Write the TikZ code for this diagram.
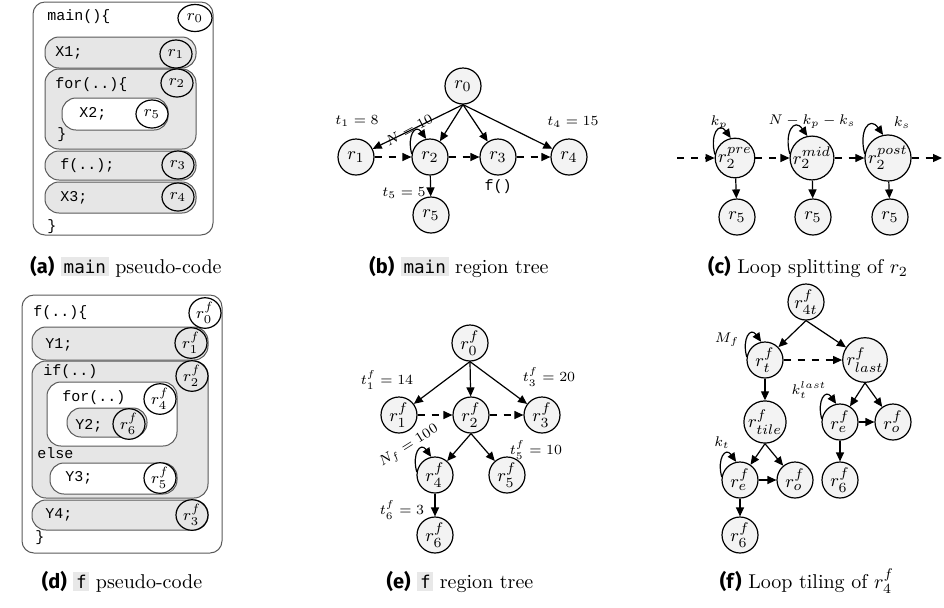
\documentclass[tikz,border=0pt]{standalone}
\usepackage{fontspec}
\newfontfamily\codefont{Liberation Mono}
\newfontfamily\labsans{Fira Sans}
\newfontfamily\captt{DejaVu Sans Mono}
\usetikzlibrary{arrows.meta,shapes.geometric}
\definecolor{boxgray}{HTML}{E6E6E6}
\definecolor{nodegray}{HTML}{F3F3F3}
\definecolor{boxline}{HTML}{5A5A5A}
\definecolor{capgray}{HTML}{E8E8E8}
\newcommand{\capcode}[1]{{\setlength{\fboxsep}{1.3pt}\colorbox{capgray}{\captt\fontsize{8.8}{10}\selectfont #1}}}
\newcommand{\caplab}[1]{{\labsans\bfseries (#1)}}

\tikzset{
  rnode/.style={circle, draw, fill=nodegray, line width=0.6pt, minimum size=18pt,
    inner sep=0pt, font=\fontsize{9.5}{10}\selectfont},
  tedge/.style={line width=0.6pt, -{Triangle[length=4.5pt,width=4pt]}},
  dedge/.style={tedge, dash pattern=on 3.5pt off 3.5pt},
  elab/.style={font=\fontsize{6.8}{8}\selectfont, inner sep=0pt},
  grayblock/.style={draw=boxline, fill=boxgray, line width=0.5pt, rounded corners=7pt},
  whiteblock/.style={draw=boxline, fill=white, line width=0.5pt, rounded corners=7pt},
  outerblock/.style={draw=boxline, fill=white, line width=0.5pt, rounded corners=6pt},
  code/.style={font=\codefont\fontsize{7.5}{9}\selectfont, anchor=west, inner sep=0pt},
  creg/.style={ellipse, draw, line width=0.6pt, inner sep=0pt, minimum width=16pt,
    minimum height=14pt, font=\fontsize{8}{9}\selectfont},
  capnode/.style={font=\fontsize{10}{12}\selectfont, inner sep=0pt, anchor=base},
}
% self-loop drawn from the left side of a node up to its top
\newcommand{\selfloop}[1]{\draw[tedge] (#1.170) to[out=105,in=125,looseness=2.3] (#1.102);}

\begin{document}
\begin{tikzpicture}[x=0.5pt, y=-0.5pt]
\useasboundingbox (0,0) rectangle (944,607);

% ---------------- (a) main pseudo-code ----------------
\draw[outerblock] (33,2) rectangle (213,235);
\draw[grayblock] (45,37) rectangle (196,68);
\draw[grayblock] (45,69) rectangle (196,149);
\draw[whiteblock] (62,98) rectangle (168,130);
\draw[grayblock] (45,151) rectangle (196,180);
\draw[grayblock] (45,182) rectangle (196,213);
\node[code] (amain) at (47,17) {main()\{};
\node[code] (ax1) at (55,53) {X1;};
\node[code] (afor) at (55,85) {for(..)\{};
\node[code] (ax2) at (79,114) {X2;};
\node[code] (aclosefor) at (57,135) {\}};
\node[code] (af) at (60,166) {f(..);};
\node[code] (ax3) at (60,198) {X3;};
\node[code] (aclose) at (47,227) {\}};
\node[creg, fill=white, minimum width=17pt, minimum height=13.5pt] (ar0) at (195,18) {$r_0$};
\node[creg, fill=boxgray] (ar1) at (176,54) {$r_1$};
\node[creg, fill=boxgray] (ar2) at (177,83) {$r_2$};
\node[creg, fill=white] (ar5) at (152,114) {$r_5$};
\node[creg, fill=boxgray] (ar3) at (178,165) {$r_3$};
\node[creg, fill=boxgray] (ar4) at (178,197) {$r_4$};

% ---------------- (b) main region tree ----------------
\node[rnode] (b0) at (463,86) {$r_0$};
\node[rnode] (b1) at (356,157) {$r_1$};
\node[rnode] (b2) at (430,157) {$r_2$};
\node[rnode] (b3) at (498,157) {$r_3$};
\node[rnode] (b4) at (569,157) {$r_4$};
\node[rnode] (b5) at (431,215) {$r_5$};
\draw[tedge] (b0.south) -- (b1);
\draw[tedge] (b0.south) -- (b2);
\draw[tedge] (b0.south) -- (b3);
\draw[tedge] (b0.south) -- (b4);
\draw[dedge] (b1) -- (b2);
\draw[dedge] (b2) -- (b3);
\draw[dedge] (b3) -- (b4);
\draw[tedge] (b2) -- (b5);
\selfloop{b2}
\node[elab] (bt1) at (357,121) {$t_1 = 8$};
\node[elab, rotate=28] (bn) at (409,130) {$N = 10$};
\node[elab] (bt5) at (404,193) {$t_5 = 5$};
\node[elab] (bt4) at (573,122) {$t_4 = 15$};
\node[code, anchor=center] (bf) at (498,187) {f()};

% ---------------- (c) loop splitting ----------------
\coordinate (cin) at (677,158);
\coordinate (cout) at (942,158);
\node[rnode] (c1) at (735,158) {$r_2^{pre}$};
\node[rnode] (c2) at (812,158) {$r_2^{mid}$};
\node[rnode] (c3) at (888,158) {$r_2^{post}$};
\node[rnode] (c4) at (737,217) {$r_5$};
\node[rnode] (c5) at (813,217) {$r_5$};
\node[rnode] (c6) at (890,217) {$r_5$};
\draw[dedge] (cin) -- (c1);
\draw[dedge] (c1) -- (c2);
\draw[dedge] (c2) -- (c3);
\draw[dedge] (c3) -- (cout);
\draw[tedge] (c1) -- (c4);
\draw[tedge] (c2) -- (c5);
\draw[tedge] (c3) -- (c6);
\selfloop{c1}
\selfloop{c2}
\selfloop{c3}
\node[elab] (ckp) at (719,123) {$k_p$};
\node[elab] (ckm) at (812,122) {$N - k_p - k_s$};
\node[elab] (cks) at (902,123) {$k_s$};

% ---------------- (d) f pseudo-code ----------------
\draw[outerblock] (22,295) rectangle (222,553);
\draw[grayblock] (32,327) rectangle (208,360);
\draw[grayblock] (32,361) rectangle (208,498);
\draw[whiteblock] (47,382) rectangle (177,446);
\draw[grayblock] (67,408) rectangle (147,437);
\draw[whiteblock] (50,463) rectangle (177,494);
\draw[grayblock] (32,500) rectangle (208,530);
\node[code] (dfun) at (33,313) {f(..)\{};
\node[code] (dy1) at (45,345) {Y1;};
\node[code] (dif) at (43,372) {if(..)};
\node[code] (dfor) at (62,398) {for(..)};
\node[code] (dy2) at (75,426) {Y2;};
\node[code] (delse) at (37,453) {else};
\node[code] (dy3) at (65,478) {Y3;};
\node[code] (dy4) at (45,515) {Y4;};
\node[code] (dclose) at (35,538) {\}};
\node[creg, fill=white, minimum height=15pt] (dr0) at (205,313) {$r_0^f$};
\node[creg, fill=boxgray, minimum height=15pt] (dr1) at (191,343) {$r_1^f$};
\node[creg, fill=boxgray, minimum height=15pt] (dr2) at (192,376) {$r_2^f$};
\node[creg, fill=white, minimum height=15pt] (dr4) at (160,399) {$r_4^f$};
\node[creg, fill=boxgray, minimum height=14pt] (dr6) at (129,424) {$r_6^f$};
\node[creg, fill=white, minimum height=15pt] (dr5) at (160,478) {$r_5^f$};
\node[creg, fill=boxgray, minimum height=15pt] (dr3) at (192,515) {$r_3^f$};

% ---------------- (e) f region tree ----------------
\node[rnode] (e0) at (470,343) {$r_0^f$};
\node[rnode] (e1) at (399,415) {$r_1^f$};
\node[rnode] (e2) at (471,415) {$r_2^f$};
\node[rnode] (e3) at (542,415) {$r_3^f$};
\node[rnode] (e4) at (435,475) {$r_4^f$};
\node[rnode] (e5) at (507,475) {$r_5^f$};
\node[rnode] (e6) at (435,535) {$r_6^f$};
\draw[tedge] (e0.south) -- (e1);
\draw[tedge] (e0.south) -- (e2);
\draw[tedge] (e0.south) -- (e3);
\draw[dedge] (e1) -- (e2);
\draw[dedge] (e2) -- (e3);
\draw[tedge] (e2.south) -- (e4);
\draw[tedge] (e2.south) -- (e5);
\draw[tedge] (e4) -- (e6);
\selfloop{e4}
\node[elab] (et1) at (387,380) {$t_1^f = 14$};
\node[elab] (et3) at (549,377) {$t_3^f = 20$};
\node[elab, rotate=32] (en) at (409,446) {$N_f = 100$};
\node[elab] (et5) at (536,450) {$t_5^f = 10$};
\node[elab] (et6) at (402,510) {$t_6^f = 3$};

% ---------------- (f) loop tiling ----------------
\node[rnode] (f0) at (806,302) {$r_{4t}^f$};
\node[rnode] (ft) at (765,360) {$r_t^f$};
\node[rnode] (fl) at (865,360) {$r_{last}^f$};
\node[rnode] (ftile) at (765,422) {$r_{tile}^f$};
\node[rnode] (fe1) at (740,480) {$r_e^f$};
\node[rnode] (fo1) at (795,480) {$r_o^f$};
\node[rnode] (fsix1) at (740,535) {$r_6^f$};
\node[rnode] (fe2) at (840,422) {$r_e^f$};
\node[rnode] (fo2) at (893,422) {$r_o^f$};
\node[rnode] (fsix2) at (840,480) {$r_6^f$};
\draw[tedge] (f0.south) -- (ft);
\draw[tedge] (f0.south) -- (fl);
\draw[dedge] (ft) -- (fl);
\draw[tedge] (ft) -- (ftile);
\draw[tedge] (ftile.south) -- (fe1);
\draw[tedge] (ftile.south) -- (fo1);
\draw[tedge] (fe1) -- (fo1);
\draw[tedge] (fe1) -- (fsix1);
\draw[tedge] (fl.south) -- (fe2);
\draw[tedge] (fl.south) -- (fo2);
\draw[tedge] (fe2) -- (fo2);
\draw[tedge] (fe2) -- (fsix2);
\selfloop{ft}
\selfloop{fe1}
\selfloop{fe2}
\node[elab] (fm) at (727,340) {$M_f$};
\node[elab] (fkl) at (809,390) {$k_t^{last}$};
\node[elab] (fk) at (722,443) {$k_t$};

% ---------------- captions ----------------
\node[capnode] (capa) at (126,273) {\caplab{a} \capcode{main} pseudo-code};
\node[capnode] (capb) at (459,273) {\caplab{b} \capcode{main} region tree};
\node[capnode] (capc) at (808,273) {\caplab{c} Loop splitting of $r_2$};
\node[capnode] (capd) at (122,588) {\caplab{d} \capcode{f} pseudo-code};
\node[capnode] (cape) at (460,588) {\caplab{e} \capcode{f} region tree};
\node[capnode] (capf) at (807,588) {\caplab{f} Loop tiling of $r_4^f$};
\end{tikzpicture}
\end{document}
